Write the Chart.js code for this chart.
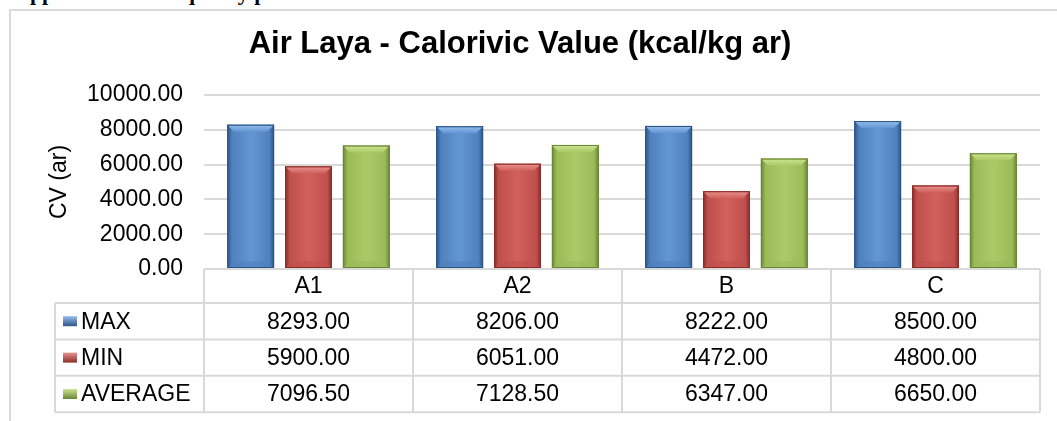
<!DOCTYPE html>
<html>
<head>
<meta charset="utf-8">
<script src="https://cdn.jsdelivr.net/npm/chart.js@4.4.1/dist/chart.umd.min.js"></script>
<style>
  html, body { margin: 0; padding: 0; background: #fff; overflow: hidden; }
  body { width: 1057px; height: 421px; position: relative; }
  #heading {
    position: absolute; left: 14px; top: -18px; white-space: nowrap;
    font: bold 22px/22px "Liberation Serif", "DejaVu Serif", serif; color: #000;
  }
  #frame {
    position: absolute; left: 9px; top: 9px; width: 1200px; height: 600px;
    border: 2px solid #d9d9d9; box-sizing: border-box;
  }
  #chart { position: absolute; left: 0; top: 0; }
</style>
</head>
<body>
<div id="heading">Appendix 4. Coal quality parameters for Calorific Value</div>
<div id="frame"></div>
<canvas id="chart" width="1057" height="421"></canvas>
<script>
const categories = ['A1', 'A2', 'B', 'C'];
const seriesNames = ['MAX', 'MIN', 'AVERAGE'];
const maxValues = [8293.00, 8206.00, 8222.00, 8500.00];
const minValues = [5900.00, 6051.00, 4472.00, 4800.00];
const avgValues = [7096.50, 7128.50, 6347.00, 6650.00];
const yMin = 0;
const yMax = 10000;
const yStep = 2000;

const FONT = "'Liberation Sans', Arial, sans-serif";

// base / light / dark / bevel shades for each series
const SHADES = [
  { base: '#4f81bd', light: '#6396d4', dark: '#2c5586', top: '#97bdec' },
  { base: '#c0504d', light: '#d2605c', dark: '#8a2d2a', top: '#e6948f' },
  { base: '#9bbb59', light: '#abcb66', dark: '#6a8634', top: '#cde493' }
];

// paint the bevelled look over every bar the library placed
const bevelBars = {
  id: 'bevelBars',
  afterDatasetDraw(chart, args) {
    const { ctx } = chart;
    const s = SHADES[args.index];
    args.meta.data.forEach(bar => {
      const { x, y, base, width } = bar.getProps(['x', 'y', 'base', 'width'], true);
      const l = x - width / 2, r = x + width / 2, t = y, b = base;
      const bv = 7;
      ctx.save();
      const g = ctx.createLinearGradient(l, 0, r, 0);
      g.addColorStop(0, s.dark);
      g.addColorStop(0.1, s.base);
      g.addColorStop(0.5, s.light);
      g.addColorStop(0.9, s.base);
      g.addColorStop(1, s.dark);
      ctx.fillStyle = g;
      ctx.fillRect(l, t, width, b - t);
      // top bevel
      ctx.beginPath();
      ctx.moveTo(l + 1, t + 1);
      ctx.lineTo(r - 1, t + 1);
      ctx.lineTo(r - bv, t + bv);
      ctx.lineTo(l + bv, t + bv);
      ctx.closePath();
      const tg = ctx.createLinearGradient(0, t, 0, t + bv);
      tg.addColorStop(0, s.top);
      tg.addColorStop(1, s.light);
      ctx.fillStyle = tg;
      ctx.fill();
      // bottom bevel
      ctx.beginPath();
      ctx.moveTo(l + 1, b - 1);
      ctx.lineTo(r - 1, b - 1);
      ctx.lineTo(r - bv, b - bv);
      ctx.lineTo(l + bv, b - bv);
      ctx.closePath();
      ctx.fillStyle = s.base;
      ctx.globalAlpha = 0.6;
      ctx.fill();
      ctx.globalAlpha = 1;
      ctx.strokeStyle = s.dark;
      ctx.lineWidth = 1;
      ctx.strokeRect(l + 0.5, t + 0.5, width - 1, b - t - 1);
      ctx.restore();
    });
  }
};

// data table under the plot, columns taken from the x scale
const dataTable = {
  id: 'dataTable',
  afterDraw(chart) {
    const { ctx, chartArea } = chart;
    const xs = chart.scales.x;
    const half = (xs.getPixelForValue(1) - xs.getPixelForValue(0)) / 2;
    const left = xs.getPixelForValue(0) - half;
    const right = xs.getPixelForValue(categories.length - 1) + half;
    const labelLeft = 55;
    const top = chartArea.bottom;
    const headBottom = xs.bottom;
    const rowH = 36.4;
    const rows = [maxValues, minValues, avgValues];
    const bottom = headBottom + rowH * rows.length;

    ctx.save();
    ctx.strokeStyle = '#d9d9d9';
    ctx.lineWidth = 2;
    ctx.beginPath();
    ctx.moveTo(left, top); ctx.lineTo(right, top);
    for (let i = 0; i <= rows.length; i++) {
      const yy = headBottom + rowH * i;
      ctx.moveTo(labelLeft, yy); ctx.lineTo(right, yy);
    }
    ctx.moveTo(labelLeft, headBottom); ctx.lineTo(labelLeft, bottom);
    for (let c = 0; c <= categories.length; c++) {
      const xx = left + half * 2 * c;
      ctx.moveTo(xx, top); ctx.lineTo(xx, bottom);
    }
    ctx.stroke();

    ctx.fillStyle = '#000';
    ctx.font = '23px ' + FONT;
    ctx.textBaseline = 'middle';
    rows.forEach((vals, r) => {
      const cy = headBottom + rowH * r + rowH / 2;
      const s = SHADES[r];
      const mg = ctx.createLinearGradient(0, cy - 5, 0, cy + 5);
      mg.addColorStop(0, s.top);
      mg.addColorStop(1, s.dark);
      ctx.fillStyle = mg;
      ctx.fillRect(63, cy - 5, 14, 10);
      ctx.fillStyle = '#000';
      ctx.textAlign = 'left';
      ctx.fillText(seriesNames[r], 81, cy + 1);
      ctx.textAlign = 'center';
      vals.forEach((v, c) => {
        ctx.fillText(v.toFixed(2), xs.getPixelForValue(c), cy + 1);
      });
    });
    ctx.restore();
  }
};

new Chart(document.getElementById('chart'), {
  type: 'bar',
  data: {
    labels: categories,
    datasets: [
      { label: seriesNames[0], data: maxValues, backgroundColor: SHADES[0].base },
      { label: seriesNames[1], data: minValues, backgroundColor: SHADES[1].base },
      { label: seriesNames[2], data: avgValues, backgroundColor: SHADES[2].base }
    ]
  },
  options: {
    responsive: false,
    animation: false,
    devicePixelRatio: 1,
    categoryPercentage: 0.83,
    barPercentage: 0.81,
    layout: { padding: { left: 0, right: 17, top: 0, bottom: 118 } },
    plugins: {
      legend: { display: false },
      tooltip: { enabled: false },
      title: {
        display: true,
        text: 'Air Laya - Calorivic Value (kcal/kg ar)',
        color: '#000',
        font: { family: FONT, size: 31, weight: 'bold', lineHeight: 1.2 },
        padding: { top: 26, bottom: 31.8 }
      }
    },
    scales: {
      x: {
        grid: { display: false, drawTicks: false },
        border: { display: false },
        ticks: { color: '#000', font: { family: FONT, size: 23 }, padding: 4 },
        afterFit(scale) { scale.height = 34; }
      },
      y: {
        min: yMin,
        max: yMax,
        grid: { color: '#d9d9d9', lineWidth: 2, drawTicks: false },
        border: { display: false },
        ticks: {
          stepSize: yStep,
          color: '#000',
          padding: 21,
          font: { family: FONT, size: 23 },
          callback: v => v.toFixed(2)
        },
        title: {
          display: true,
          text: 'CV (ar)',
          color: '#000',
          font: { family: FONT, size: 23 },
          padding: { top: 46 }
        },
        afterFit(scale) { scale.width = 204; }
      }
    }
  },
  plugins: [bevelBars, dataTable]
});
</script>
</body>
</html>
